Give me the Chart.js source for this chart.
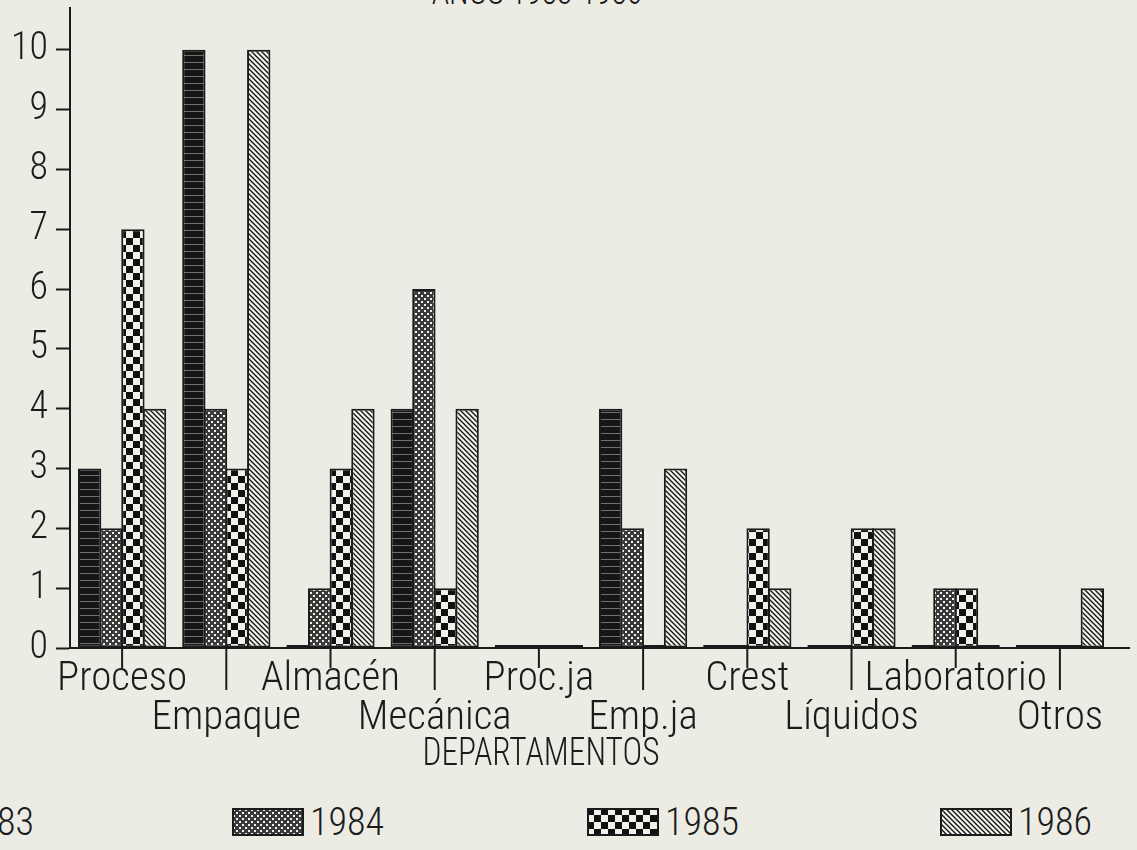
<!DOCTYPE html>
<html lang="es">
<head>
<meta charset="utf-8">
<title>Accidentes por departamento 1983-1986</title>
<script src="https://cdn.jsdelivr.net/npm/chart.js@4.4.1/dist/chart.umd.min.js"></script>
<style>
  html, body { margin: 0; padding: 0; }
  body {
    width: 1137px; height: 850px; overflow: hidden; position: relative;
    background: #ecebe4; color: #1b1b1b;
    font-family: 'Roboto Condensed', 'Liberation Sans Narrow', 'DejaVu Sans Condensed', sans-serif;
    font-weight: 300;
  }
  #wrap { position: absolute; left: 0; top: 0; width: 1137px; height: 760px; }
  .titulo { position: absolute; left: 337px; width: 400px; top: -26px; text-align: center; font-size: 36px; line-height: 36px; transform: scaleX(0.88); }
  #ejeX { position: absolute; left: 341px; width: 400px; top: 733px; text-align: center; font-size: 38px; line-height: 38px; transform: scaleX(0.88); }
  .ley { position: absolute; top: 804px; height: 36px; display: flex; align-items: center; font-size: 38px; white-space: nowrap; }
  .ley canvas { width: 72px; height: 28px; margin-right: 6px; }
</style>
</head>
<body>
<div class="titulo">AÑOS 1983-1986</div>
<div id="wrap"><canvas id="grafico"></canvas></div>
<div id="ejeX">DEPARTAMENTOS</div>
<div id="leyenda"></div>

<script>
  // Datos
  const departamentos = ['Proceso', 'Empaque', 'Almacén', 'Mecánica', 'Proc.ja', 'Emp.ja', 'Crest', 'Líquidos', 'Laboratorio', 'Otros'];
  const anios = ['1983', '1984', '1985', '1986'];
  const acc1983 = [3, 10, 0, 4, 0, 4, 0, 0, 0, 0];
  const acc1984 = [2, 4, 1, 6, 0, 2, 0, 0, 1, 0];
  const acc1985 = [7, 3, 3, 1, 0, 0, 2, 2, 1, 0];
  const acc1986 = [4, 10, 4, 4, 0, 3, 1, 2, 0, 1];
  const marcasY = [0, 1, 2, 3, 4, 5, 6, 7, 8, 9, 10];

  const TINTA = '#1b1b1b';
  const PAPEL = '#f1f0ea';
  const FUENTE = "'Roboto Condensed', 'Liberation Sans Narrow', 'DejaVu Sans Condensed', sans-serif";

  // Tramas de relleno tipo plotter
  function patron(tipo) {
    const c = document.createElement('canvas');
    const g = c.getContext('2d');
    if (tipo === 'oscuro') {
      c.width = 8; c.height = 7;
      g.fillStyle = '#161616'; g.fillRect(0, 0, 8, 7);
      g.fillStyle = 'rgba(150,150,150,0.7)'; g.fillRect(0, 6, 8, 1);
    } else if (tipo === 'punteado') {
      c.width = 6; c.height = 6;
      g.fillStyle = '#3a3a3a'; g.fillRect(0, 0, 6, 6);
      g.fillStyle = PAPEL; g.fillRect(1, 1, 2, 2); g.fillRect(4, 4, 2, 2);
    } else if (tipo === 'ajedrez') {
      c.width = 14; c.height = 14;
      g.fillStyle = PAPEL; g.fillRect(0, 0, 14, 14);
      g.fillStyle = '#111'; g.fillRect(0, 0, 7, 7); g.fillRect(7, 7, 7, 7);
    } else {
      c.width = 5; c.height = 5;
      g.fillStyle = PAPEL; g.fillRect(0, 0, 5, 5);
      g.strokeStyle = '#111'; g.lineWidth = 1.3;
      g.beginPath();
      g.moveTo(-1, -1); g.lineTo(6, 6);
      g.moveTo(-1, 4); g.lineTo(1, 6);
      g.moveTo(4, -1); g.lineTo(6, 1);
      g.stroke();
    }
    return g.createPattern(c, 'repeat');
  }

  const tramas = ['oscuro', 'punteado', 'ajedrez', 'rayado'];
  const series = [acc1983, acc1984, acc1985, acc1986];

  // Etiquetas alternadas en dos filas
  const etiquetas = departamentos.map((d, i) => (i % 2 ? ['', d] : [d]));

  // Marcas del eje X: cortas / largas alternadas
  const marcasEjeX = {
    id: 'marcasEjeX',
    afterDraw(chart) {
      const { ctx, chartArea } = chart;
      const x = chart.scales.x;
      ctx.save();
      ctx.strokeStyle = TINTA;
      ctx.lineWidth = 2;
      x.ticks.forEach((t, i) => {
        const px = x.getPixelForTick(i);
        ctx.beginPath();
        ctx.moveTo(px, chartArea.bottom);
        ctx.lineTo(px, chartArea.bottom + (i % 2 ? 42 : 20));
        ctx.stroke();
      });
      // el eje sigue un poco más allá de la última categoría
      ctx.beginPath();
      ctx.moveTo(chartArea.right, chartArea.bottom);
      ctx.lineTo(chartArea.right + 18, chartArea.bottom);
      ctx.stroke();
      ctx.restore();
    }
  };

  const grafico = new Chart(document.getElementById('grafico').getContext('2d'), {
    type: 'bar',
    data: {
      labels: etiquetas,
      datasets: anios.map((a, k) => ({
        label: a,
        data: series[k],
        backgroundColor: patron(tramas[k]),
        borderColor: TINTA,
        borderWidth: 2,
        borderSkipped: false,
        minBarLength: 3,
        barPercentage: 1.08,
        categoryPercentage: 0.83
      }))
    },
    options: {
      responsive: true,
      maintainAspectRatio: false,
      animation: false,
      layout: { padding: { top: 8, right: 25, left: 0, bottom: 0 } },
      plugins: {
        legend: { display: false },
        title: { display: false },
        tooltip: { enabled: false }
      },
      scales: {
        x: {
          grid: { display: false, drawTicks: false },
          border: { display: true, color: TINTA, width: 2 },
          ticks: {
            color: TINTA,
            autoSkip: false,
            maxRotation: 0,
            minRotation: 0,
            padding: 12,
            font: { family: FUENTE, size: 41, weight: '300', lineHeight: 0.95 }
          },
          afterFit: s => { s.height = 112; }
        },
        y: {
          min: 0,
          max: 10.7,
          grid: { drawOnChartArea: false, drawTicks: true, tickLength: 14, tickWidth: 2, tickColor: TINTA },
          border: { display: true, color: TINTA, width: 2 },
          ticks: {
            color: TINTA,
            stepSize: 1,
            padding: 8,
            font: { family: FUENTE, size: 38, weight: '300', lineHeight: 1 }
          },
          afterBuildTicks: s => { s.ticks = marcasY.map(v => ({ value: v })); },
          afterFit: s => { s.width = 70; s.paddingTop = 0; s.paddingBottom = 0; }
        }
      }
    },
    plugins: [marcasEjeX]
  });

  // Leyenda (la primera entrada queda cortada a la izquierda, como en el original)
  const posLeyenda = [-118, 232, 587, 940];
  const leyenda = document.getElementById('leyenda');
  anios.forEach((a, k) => {
    const item = document.createElement('div');
    item.className = 'ley';
    item.style.left = posLeyenda[k] + 'px';
    const sw = document.createElement('canvas');
    sw.width = 72; sw.height = 28;
    const g = sw.getContext('2d');
    g.fillStyle = patron(tramas[k]);
    g.fillRect(0, 0, 72, 28);
    g.strokeStyle = TINTA; g.lineWidth = 2;
    g.strokeRect(1, 1, 70, 26);
    item.appendChild(sw);
    item.appendChild(document.createTextNode(a));
    leyenda.appendChild(item);
  });
</script>
</body>
</html>
